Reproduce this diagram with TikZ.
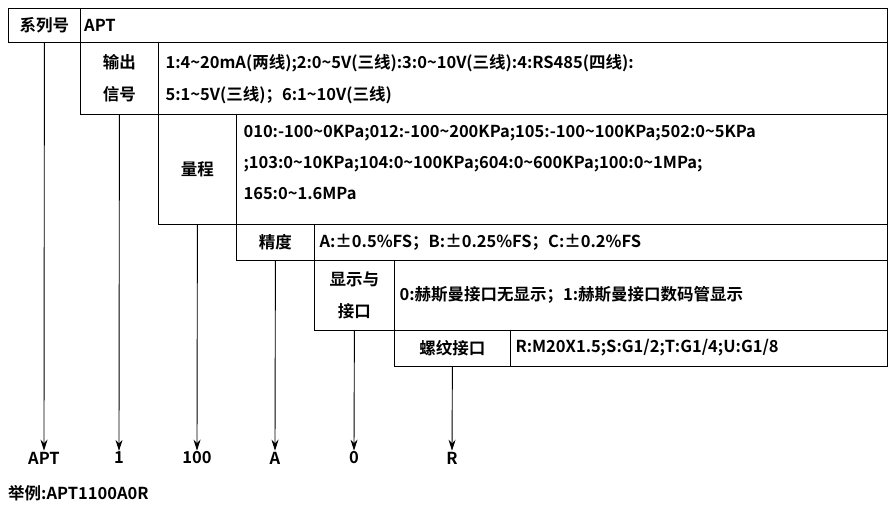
\documentclass[tikz,border=0pt]{standalone}
\usepackage{fontspec}
\setmainfont{Noto Sans CJK SC}[BoldFont={* Bold}]
\usetikzlibrary{arrows.meta}
\begin{document}
\begin{tikzpicture}[x=1pt,y=-1pt,
  every node/.style={font=\fontsize{16.5}{31}\selectfont\bfseries},
  box/.style={draw,line width=0.8pt,anchor=north west,inner sep=0pt,align=center},
  cbox/.style={draw,line width=0.8pt,anchor=north west,inner sep=0pt},
  arr/.style={-{Stealth[length=11pt,width=7pt]},line width=0.9pt},
  lab/.style={inner sep=1pt}]
\useasboundingbox (0,0) rectangle (896,512);
\node[box,minimum width=72,minimum height=34] (k1) at (8,8) {系列号};
\node[cbox,minimum width=807,minimum height=34] (v1) at (80,8) {};
\node[anchor=west,inner sep=0pt] (t1) at (84,25) {APT};
\node[box,minimum width=78,minimum height=72,font=\fontsize{16.5}{32}\selectfont\bfseries] (k2) at (80,42) {输出\\信号};
\node[cbox,minimum width=729,minimum height=72] (v2) at (158,42) {};
\node[anchor=west,align=left,font=\fontsize{16.5}{32}\selectfont\bfseries] (t2) at (162,79) {1:4\textasciitilde20mA(两线);2:0\textasciitilde5V(三线):3:0\textasciitilde10V(三线):4:RS485(四线):\\5:1\textasciitilde5V(三线)；6:1\textasciitilde10V(三线)};
\node[box,minimum width=78,minimum height=110] (k3) at (158,114) {量程};
\node[cbox,minimum width=651,minimum height=110] (v3) at (236,114) {};
\node[anchor=west,align=left] (t3) at (240,162) {010:-100\textasciitilde0KPa;012:-100\textasciitilde200KPa;105:-100\textasciitilde100KPa;502:0\textasciitilde5KPa\\;103:0\textasciitilde10KPa;104:0\textasciitilde100KPa;604:0\textasciitilde600KPa;100:0\textasciitilde1MPa;\\165:0\textasciitilde1.6MPa};
\node[box,minimum width=78,minimum height=36] (k4) at (236,224) {精度};
\node[cbox,minimum width=573,minimum height=36] (v4) at (314,224) {};
\node[anchor=west] (t4) at (316,242) {A:±0.5\%FS；B:±0.25\%FS；C:±0.2\%FS};
\node[box,minimum width=80,minimum height=70,font=\fontsize{16.5}{32}\selectfont\bfseries] (k5) at (314,260) {显示与\\接口};
\node[cbox,minimum width=493,minimum height=70] (v5) at (394,260) {};
\node[anchor=west] (t5) at (396,295) {0:赫斯曼接口无显示；1:赫斯曼接口数码管显示};
\node[box,minimum width=116,minimum height=36] (k6) at (394,330) {螺纹接口};
\node[cbox,minimum width=377,minimum height=36] (v6) at (510,330) {};
\node[anchor=west] (t6) at (512,348) {R:M20X1.5;S:G1/2;T:G1/4;U:G1/8};
\node[lab] (a1) at (44,458) {APT};
\node[lab] (a2) at (119,458) {1};
\node[lab] (a3) at (197,458) {100};
\node[lab] (a4) at (275,458) {A};
\node[lab] (a5) at (354,458) {0};
\node[lab] (a6) at (452,458) {R};
\node[anchor=west,inner sep=0pt] (ex) at (8,493) {举例:APT1100A0R};
\draw[arr] (k1.south) -- (a1.north);
\draw[arr] (k2.south) -- (a2.north);
\draw[arr] (k3.south) -- (a3.north);
\draw[arr] (k4.south) -- (a4.north);
\draw[arr] (k5.south) -- (a5.north);
\draw[arr] (k6.south) -- (a6.north);
\end{tikzpicture}
\end{document}
